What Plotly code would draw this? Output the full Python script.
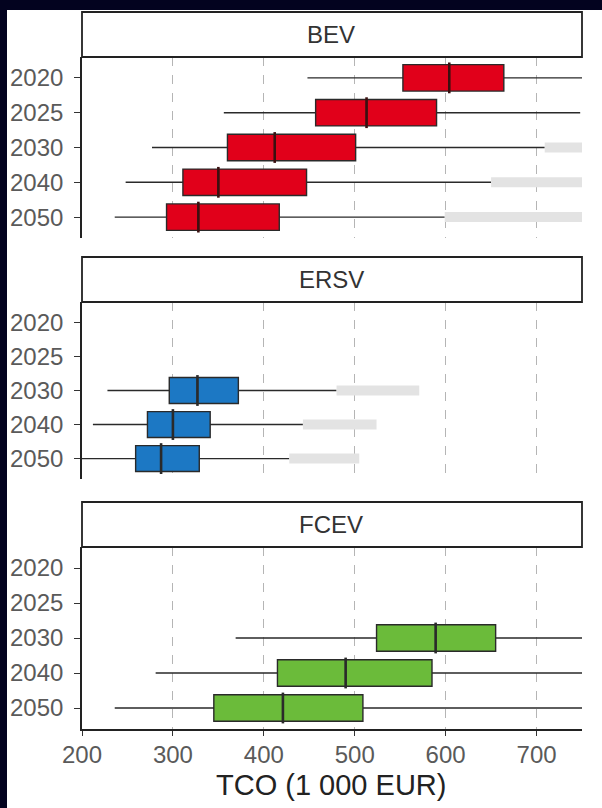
import plotly.graph_objects as go

years = ["2020", "2025", "2030", "2040", "2050"]
panels = ["BEV", "ERSV", "FCEV"]

# BEV
bev_years = ["2020", "2025", "2030", "2040", "2050"]
bev_low = [448, 356, 277, 248, 236]
bev_q1 = [553, 457, 360, 311, 293]
bev_med = [604, 513, 412, 350, 328]
bev_q3 = [664, 590, 501, 447, 417]
bev_high = [770, 748, 709, 650, 599]
bev_out_years = ["2030", "2040", "2050"]
bev_out_from = [709, 650, 599]
bev_out_to = [760, 760, 760]

# ERSV
ersv_years = ["2030", "2040", "2050"]
ersv_low = [228, 212, 190]
ersv_q1 = [296, 272, 259]
ersv_med = [327, 300, 287]
ersv_q3 = [372, 341, 329]
ersv_high = [480, 443, 428]
ersv_out_years = ["2030", "2040", "2050"]
ersv_out_from = [480, 443, 428]
ersv_out_to = [571, 524, 505]

# FCEV
fcev_years = ["2030", "2040", "2050"]
fcev_low = [369, 281, 236]
fcev_q1 = [524, 415, 345]
fcev_med = [589, 490, 421]
fcev_q3 = [655, 585, 509]
fcev_high = [770, 770, 770]

x_ticks = [200, 300, 400, 500, 600, 700]

colors = {"BEV": "#e1001a", "ERSV": "#1c78c4", "FCEV": "#6bbb3a"}
outline = "#2a2a2a"
NAVY = "#03031f"

fig = go.Figure()

data = [
    ("BEV", bev_years, bev_low, bev_q1, bev_med, bev_q3, bev_high, bev_out_years, bev_out_from, bev_out_to, ""),
    ("ERSV", ersv_years, ersv_low, ersv_q1, ersv_med, ersv_q3, ersv_high, ersv_out_years, ersv_out_from, ersv_out_to, "2"),
    ("FCEV", fcev_years, fcev_low, fcev_q1, fcev_med, fcev_q3, fcev_high, [], [], [], "3"),
]

for name, yrs, lo, q1, med, q3, hi, oy, of, ot, ax in data:
    xa = "x" + ax
    ya = "y" + ax
    for y, a, b in zip(oy, of, ot):
        fig.add_trace(go.Scatter(
            x=[a, b], y=[y, y], mode="lines",
            line=dict(color="#e3e3e3", width=10),
            xaxis=xa, yaxis=ya, showlegend=False, hoverinfo="skip"))
    fig.add_trace(go.Box(
        y=yrs, q1=q1, median=med, q3=q3, lowerfence=lo, upperfence=hi,
        orientation="h", width=0.76, whiskerwidth=0,
        fillcolor=colors[name], line=dict(color=outline, width=1.4),
        xaxis=xa, yaxis=ya, showlegend=False, boxpoints=False))
    fig.add_trace(go.Scatter(
        x=med, y=yrs, mode="markers",
        marker=dict(symbol="line-ns", size=22, line=dict(color="#3a1010" if name == "BEV" else outline, width=2.6)),
        xaxis=xa, yaxis=ya, showlegend=False, hoverinfo="skip"))

H = 808.0


def fy(py):
    return 1 - py / H


doms = [(57, 238), (302, 479), (547, 729)]
strips = [(12, 57), (257, 302), (502, 547)]

layout = dict(
    width=602, height=808,
    paper_bgcolor=NAVY, plot_bgcolor="white",
    margin=dict(l=82, r=20, t=0, b=0),
    font=dict(family="Liberation Sans, Arial, sans-serif"),
    showlegend=False,
)

for i, (top, bot) in enumerate(doms):
    suffix = "" if i == 0 else str(i + 1)
    last = i == 2
    layout["xaxis" + suffix] = dict(
        range=[200, 750], tickvals=x_ticks, anchor="y" + suffix,
        showgrid=True, gridcolor="#b5b5b5", griddash="dash", gridwidth=1,
        zeroline=False,
        showline=last, linecolor="#222", linewidth=1.6,
        ticks="outside" if last else "", ticklen=5, tickcolor="#333", tickwidth=1.4,
        showticklabels=last, tickfont=dict(size=24, color="#5a5a5a"),
        ticklabelstandoff=-2,
        matches=None if i == 0 else "x",
    )
    layout["yaxis" + suffix] = dict(
        domain=[fy(bot), fy(top)], anchor="x" + suffix,
        type="category", categoryorder="array", categoryarray=years,
        tickvals=years, range=[4.6, -0.6],
        showgrid=False, zeroline=False,
        showline=True, linecolor="#222", linewidth=1.6,
        ticks="outside", ticklen=6, tickcolor="#333", tickwidth=1.4,
        tickfont=dict(size=24, color="#5a5a5a"), ticklabelstandoff=6,
    )

shapes = [dict(type="rect", xref="paper", yref="paper",
               x0=(7 - 82) / 500, x1=(640 - 82) / 500, y0=-0.05, y1=fy(10),
               fillcolor="white", line=dict(width=0), layer="below")]
annotations = []
for name, (top, bot) in zip(panels, strips):
    shapes.append(dict(type="rect", xref="paper", yref="paper",
                       x0=0, x1=1, y0=fy(bot), y1=fy(top),
                       fillcolor="white", line=dict(color="#222", width=1.8)))
    annotations.append(dict(xref="paper", yref="paper", x=0.498, y=fy((top + bot) / 2),
                            xanchor="center", yanchor="middle",
                            text=name, showarrow=False,
                            font=dict(size=24, color="#333")))
annotations.append(dict(xref="paper", yref="paper", x=0.498, y=fy(785),
                        xanchor="center", yanchor="middle",
                        text="TCO (1 000 EUR)", showarrow=False,
                        font=dict(size=29, color="#222")))
layout["shapes"] = shapes
layout["annotations"] = annotations

fig.update_layout(**layout)
fig.write_html(
    "out.html",
    config={"displayModeBar": False},
    post_script="document.body.style.margin='0';document.body.style.background='" + NAVY + "';",
)
